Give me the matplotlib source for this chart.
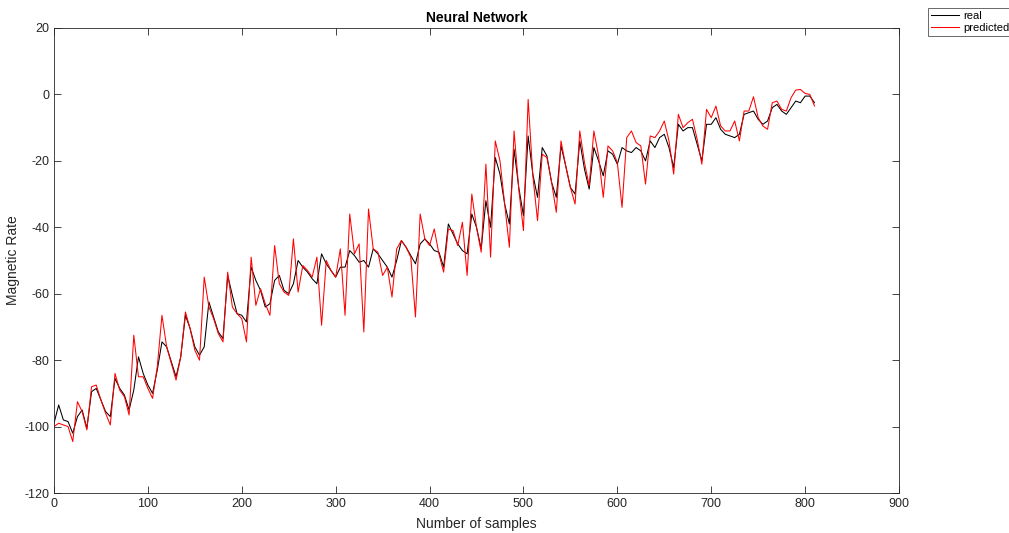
import numpy as np
import matplotlib
matplotlib.use("Agg")
import matplotlib.pyplot as plt

plt.rcParams['font.family'] = ['Liberation Sans', 'DejaVu Sans']
plt.rcParams['axes.unicode_minus'] = False

# sample index, read every 5 samples
samples = np.arange(0, 815, 5)

real = [
    -99, -93.5, -98, -98.5, -102, -97, -95, -100.5, -89.5, -88.5,
    -92, -95.5, -97, -85.5, -88.5, -90.5, -95, -89, -79, -84,
    -87.5, -90, -83, -74.5, -76, -80.5, -85, -79, -66.5, -70.5,
    -76, -78.5, -76, -62.5, -67, -71.5, -73.5, -54.5, -60.5, -66,
    -66.5, -68.5, -52, -56, -59, -64, -63, -56, -54.5, -59,
    -60, -57, -50, -52, -53.5, -55.5, -57, -48, -51, -53,
    -55, -52, -52, -47, -48.5, -50.5, -50, -52, -46.5, -48,
    -50, -52, -55, -50, -44, -46, -48.5, -51, -45, -43.5,
    -45, -47, -47.5, -52, -39, -42, -45, -47, -48, -36,
    -40, -46.5, -32, -40, -19, -24, -33, -39, -16.5, -28,
    -36.5, -12.5, -24, -31, -16, -18.5, -26.5, -31, -15.5, -21.5,
    -28, -30, -14, -22.5, -28.5, -16, -20, -24.5, -17, -18,
    -21, -16, -17, -17.5, -16, -17, -20, -14, -16, -13,
    -12, -16, -22, -9, -11, -10, -10, -15, -20, -9,
    -9, -7, -10.5, -12, -12.5, -13, -12, -6, -5.5, -5,
    -7.5, -9, -8, -4, -3, -5, -6, -4, -2, -2.5,
    -0.5, -0.5, -2.5,
]

predicted = [
    -100, -99, -99.5, -100, -104.5, -92.5, -95.5, -101, -88, -87.5,
    -92, -96, -99.5, -84, -89, -91, -96.5, -72.5, -85, -85,
    -88.5, -91.5, -82, -66.5, -76, -81, -86, -79, -65.5, -70.5,
    -77, -80, -55, -64, -67.5, -72, -74.5, -53.5, -64, -66,
    -67.5, -74.5, -49, -63.5, -58.5, -63, -66.5, -45.5, -57, -59.5,
    -60.5, -43.5, -59.5, -51.5, -53, -55, -49, -69.5, -50, -53,
    -55, -46.5, -66.5, -36, -48, -45, -71.5, -34.5, -46.5, -47.5,
    -54.5, -52, -61, -46.5, -44, -46, -49, -67, -36, -43.5,
    -45.5, -40.5, -48, -53.5, -40.5, -41, -45.5, -38.5, -54.5, -30,
    -40, -47.5, -21, -49, -14, -20, -33, -46, -11, -28.5,
    -41, -1.5, -24.5, -38, -18, -19, -26.5, -35.5, -14, -21.5,
    -28, -33, -11, -20.5, -27.5, -11, -18.5, -31, -15.5, -17,
    -20.5, -34, -13, -11, -14.5, -15.5, -27, -12.5, -13, -11,
    -8, -14, -24, -6, -10, -8.5, -7.5, -13.5, -21, -4.5,
    -7, -3.5, -9.5, -11, -11, -8, -14, -5, -5, -0.7,
    -7, -9.5, -10.5, -2.5, -2, -4.5, -5, -1, 1.3, 1.5,
    0.3, 0, -3.5,
]

fig = plt.figure(figsize=(10.09, 5.33), dpi=100)
ax = fig.add_axes([0.0535, 0.075, 0.8375, 0.8725])

ax.plot(samples, real, color='black', lw=0.75, label='real')
ax.plot(samples, predicted, color='red', lw=0.75, label='predicted')

ax.set_xlim(0, 900)
ax.set_ylim(-120, 20)
ax.set_xticks(np.arange(0, 901, 100))
ax.set_yticks(np.arange(-120, 21, 20))

grey = '#262626'
for sp in ax.spines.values():
    sp.set_color(grey)
    sp.set_linewidth(0.6)
ax.tick_params(direction='in', top=True, right=True, length=5, width=0.6,
               colors=grey, labelsize=9)

ax.set_title('Neural Network', fontsize=10, fontweight='bold', color='black', pad=4)
ax.set_xlabel('Number of samples', fontsize=10, color=grey, labelpad=5)
ax.set_ylabel('Magnetic Rate', fontsize=10, color=grey, labelpad=3)

leg = fig.legend(loc='upper left', bbox_to_anchor=(922 / 1009, 1 - 2 / 533),
                 fontsize=8, frameon=True, fancybox=False, handlelength=2.5,
                 borderpad=0.3, labelspacing=0.2, handletextpad=0.4)
leg.get_frame().set_edgecolor(grey)
leg.get_frame().set_linewidth(0.6)

fig.savefig('out.png', dpi=100)
